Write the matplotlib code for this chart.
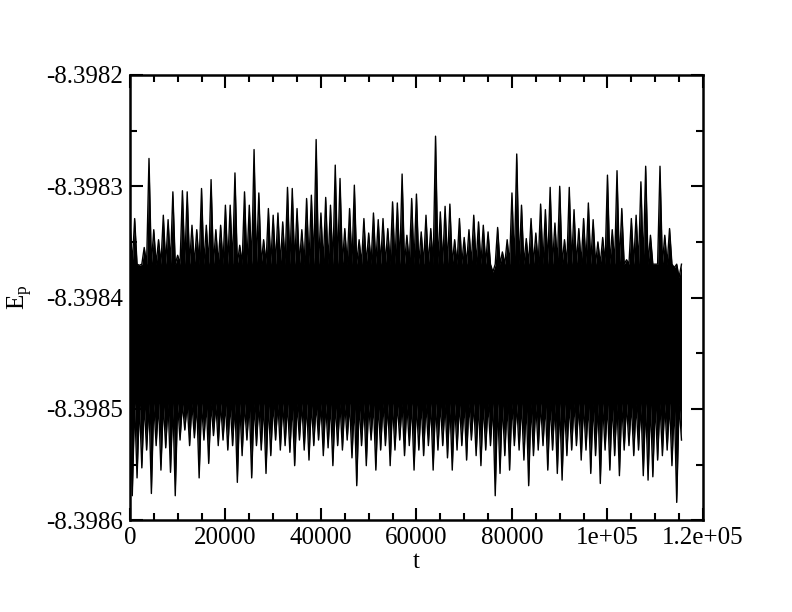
import matplotlib
matplotlib.use("Agg")
import matplotlib.pyplot as plt
import numpy as np
from matplotlib.ticker import MultipleLocator

plt.rcParams["font.family"] = ["Liberation Serif", "DejaVu Serif"]
plt.rcParams["mathtext.fontset"] = "custom"
plt.rcParams["mathtext.rm"] = "Liberation Serif"
plt.rcParams["mathtext.it"] = "Liberation Serif:italic"

# sample times of the envelope readings (every 1000 time units)
t = np.arange(0, 116000, 1000)

# upper extremes of E_p in each 1000-step window
e_high = [
    -8.398330, -8.398329, -8.398371, -8.398355, -8.398275, -8.398339, -8.398348, -8.398326,
    -8.398330, -8.398305, -8.398362, -8.398304, -8.398305, -8.398335, -8.398339, -8.398302,
    -8.398335, -8.398294, -8.398339, -8.398335, -8.398317, -8.398317, -8.398288, -8.398353,
    -8.398305, -8.398317, -8.398267, -8.398306, -8.398348, -8.398320, -8.398326, -8.398324,
    -8.398332, -8.398301, -8.398302, -8.398320, -8.398339, -8.398311, -8.398308, -8.398258,
    -8.398324, -8.398310, -8.398317, -8.398281, -8.398293, -8.398338, -8.398320, -8.398299,
    -8.398348, -8.398329, -8.398342, -8.398324, -8.398330, -8.398329, -8.398338, -8.398314,
    -8.398315, -8.398289, -8.398344, -8.398311, -8.398307, -8.398341, -8.398326, -8.398338,
    -8.398255, -8.398323, -8.398318, -8.398316, -8.398348, -8.398329, -8.398346, -8.398339,
    -8.398326, -8.398332, -8.398335, -8.398341, -8.398377, -8.398337, -8.398359, -8.398348,
    -8.398306, -8.398271, -8.398317, -8.398347, -8.398329, -8.398342, -8.398316, -8.398321,
    -8.398301, -8.398333, -8.398300, -8.398348, -8.398301, -8.398321, -8.398338, -8.398329,
    -8.398315, -8.398330, -8.398350, -8.398346, -8.398290, -8.398339, -8.398286, -8.398320,
    -8.398366, -8.398329, -8.398326, -8.398296, -8.398282, -8.398344, -8.398370, -8.398282,
    -8.398344, -8.398338, -8.398373, -8.398382,
]

# lower extremes of E_p in each window
e_low = [
    -8.398578, -8.398562, -8.398553, -8.398537, -8.398576, -8.398533, -8.398555, -8.398535,
    -8.398557, -8.398578, -8.398528, -8.398519, -8.398533, -8.398526, -8.398562, -8.398528,
    -8.398549, -8.398524, -8.398533, -8.398528, -8.398537, -8.398533, -8.398566, -8.398542,
    -8.398528, -8.398562, -8.398533, -8.398537, -8.398558, -8.398542, -8.398528, -8.398537,
    -8.398533, -8.398539, -8.398551, -8.398528, -8.398537, -8.398546, -8.398533, -8.398528,
    -8.398542, -8.398535, -8.398551, -8.398533, -8.398537, -8.398528, -8.398544, -8.398569,
    -8.398533, -8.398551, -8.398528, -8.398555, -8.398537, -8.398533, -8.398551, -8.398537,
    -8.398528, -8.398542, -8.398533, -8.398555, -8.398537, -8.398542, -8.398533, -8.398555,
    -8.398537, -8.398533, -8.398544, -8.398555, -8.398537, -8.398533, -8.398546, -8.398528,
    -8.398542, -8.398551, -8.398537, -8.398533, -8.398578, -8.398558, -8.398542, -8.398555,
    -8.398533, -8.398537, -8.398546, -8.398569, -8.398542, -8.398537, -8.398533, -8.398555,
    -8.398537, -8.398558, -8.398564, -8.398542, -8.398537, -8.398533, -8.398546, -8.398537,
    -8.398558, -8.398542, -8.398567, -8.398537, -8.398555, -8.398542, -8.398560, -8.398537,
    -8.398533, -8.398542, -8.398537, -8.398560, -8.398564, -8.398561, -8.398546, -8.398542,
    -8.398537, -8.398551, -8.398584, -8.398528,
]

# edges of the dense, fully black band
core_top = -8.398370
core_bottom = -8.398495

x_ticks = [0, 20000, 40000, 60000, 80000, 100000, 120000]
x_labels = ["0", "20000", "40000", "60000", "80000", "1e+05", "1.2e+05"]
y_ticks = [-8.3986, -8.3985, -8.3984, -8.3983, -8.3982]
y_labels = ["-8.3986", "-8.3985", "-8.3984", "-8.3983", "-8.3982"]

# interleave: upper spikes at t, lower spikes half a step later
n = len(t)
tx = np.empty(2 * n)
tx[0::2] = t
tx[1::2] = t + 500
upper = np.empty(2 * n)
upper[0::2] = e_high
upper[1::2] = core_top
lower = np.empty(2 * n)
lower[0::2] = core_bottom
lower[1::2] = e_low

fig = plt.figure(figsize=(7.92, 6.12), dpi=100)
ax = fig.add_axes([0.164, 0.150, 0.7236, 0.7275])

ax.fill_between(tx, lower, upper, color="black", lw=0)
ax.plot(tx, upper, color="black", lw=1.0)
ax.plot(tx, lower, color="black", lw=1.0)

ax.set_xlim(0, 120000)
ax.set_ylim(-8.3986, -8.3982)
ax.set_xticks(x_ticks)
ax.set_xticklabels(x_labels)
ax.set_yticks(y_ticks)
ax.set_yticklabels(y_labels)
ax.xaxis.set_minor_locator(MultipleLocator(5000))
ax.yaxis.set_minor_locator(MultipleLocator(0.00005))

ax.tick_params(which="both", direction="in", top=True, right=True, width=1.5,
               labelsize=18, pad=5)
ax.tick_params(which="major", length=9)
ax.tick_params(which="minor", length=4.7)
for s in ax.spines.values():
    s.set_linewidth(1.8)

ax.set_xlabel("t", fontsize=18, labelpad=1)
ax.set_ylabel(r"$\mathrm{E}_\mathrm{p}$", fontsize=18, labelpad=8)

fig.savefig("out.png", dpi=100)
